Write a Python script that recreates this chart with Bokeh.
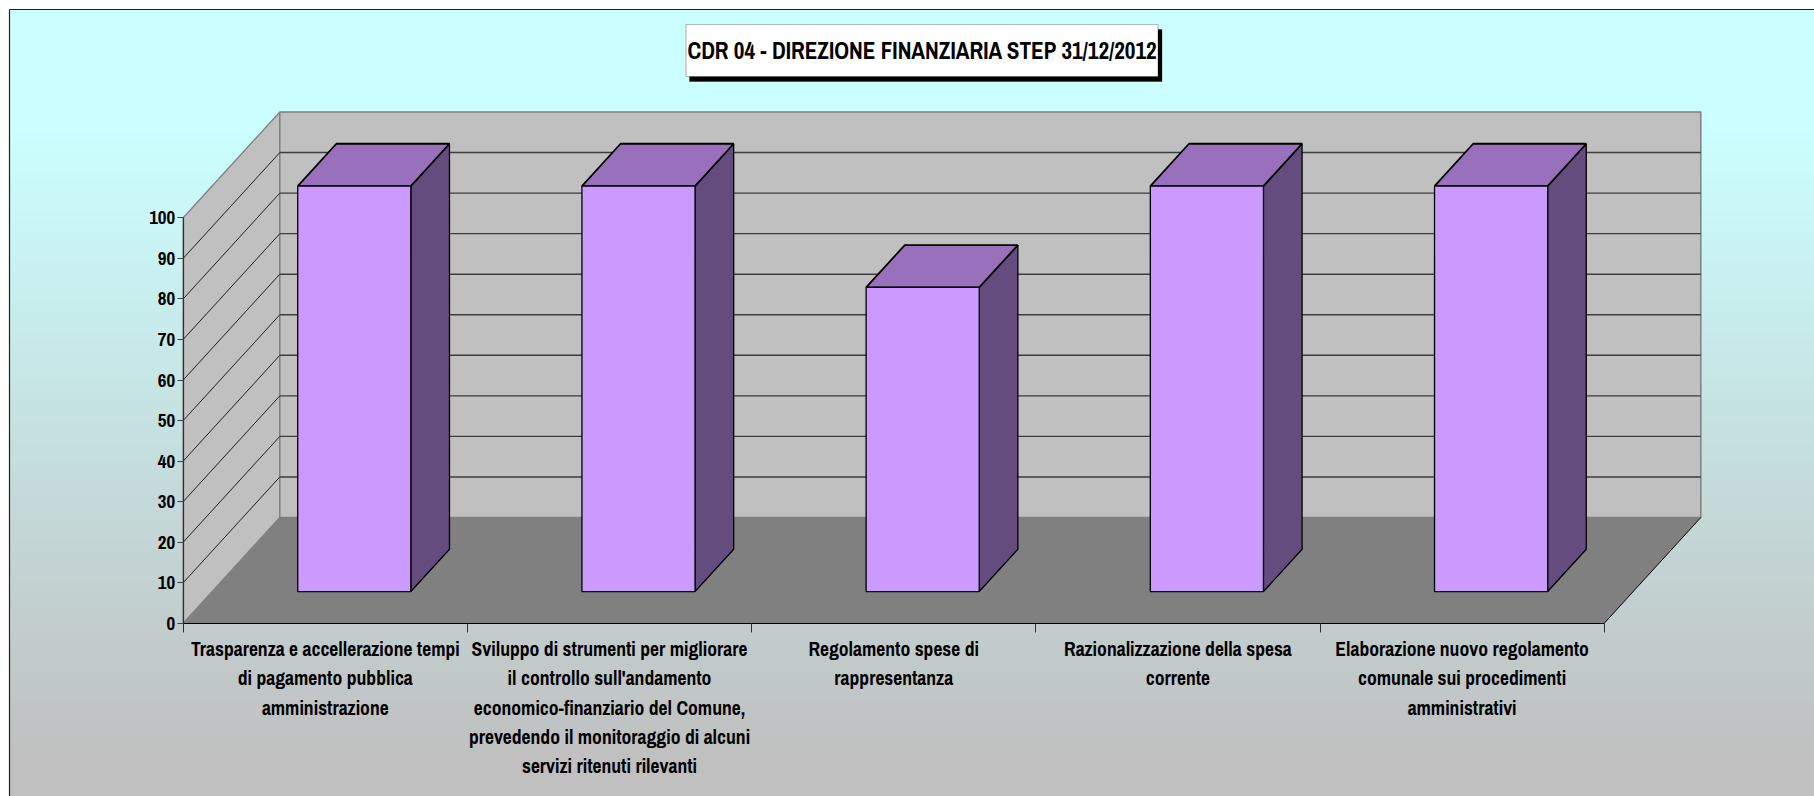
import numpy as np
from bokeh.plotting import figure
from bokeh.models import Range1d, LinearAxis, FixedTicker, Label, BoxAnnotation
from bokeh.embed import file_html
from bokeh.resources import INLINE

title_text = "CDR 04 - DIREZIONE FINANZIARIA STEP 31/12/2012"
categories = [
    "Trasparenza e accellerazione tempi\ndi pagamento pubblica\namministrazione",
    "Sviluppo di strumenti per migliorare\nil controllo sull'andamento\neconomico-finanziario del Comune,\nprevedendo il monitoraggio di alcuni\nservizi ritenuti rilevanti",
    "Regolamento spese di\nrappresentanza",
    "Razionalizzazione della spesa\ncorrente",
    "Elaborazione nuovo regolamento\ncomunale sui procedimenti\namministrativi",
]
values = [100, 100, 75, 100, 100]
y_ticks = list(range(0, 101, 10))

# layout: page pixels of the data origin and scale
X0, XS = 182.7, 284.2     # px of x=0, px per category
Y0, YS = 622.8, 4.055     # px of v=0, px per value unit
DX, DY = 96.6 / XS, 105.8 / YS   # oblique depth vector, in data units
BAR_W, Z0, Z1 = 0.398, 0.3, 0.7
FONT = "Archivo Narrow, Liberation Sans"

W, H = 1814, 796
px = lambda x: (x - X0) / XS
py = lambda y: (Y0 - y) / YS
xr = (px(0), px(W))
yr = (py(H), py(0))

p = figure(width=W, height=H, output_backend="svg", toolbar_location=None,
           x_range=Range1d(*xr), y_range=Range1d(*yr), min_border=0,
           x_axis_type=None, y_axis_type=None, outline_line_color=None)
p.grid.visible = False
p.background_fill_color = "white"
p.border_fill_color = "white"


def proj(x, v, z):
    return x + z * DX, v + z * DY


def face(pts):
    xy = [proj(*q) for q in pts]
    return [a for a, _ in xy], [b for _, b in xy]


# background gradient
ys = np.linspace(9, H, 394)
t = np.clip((ys - 130) / (760 - 130), 0, 1)
c0, c1 = np.array([204, 255, 255]), np.array([192, 192, 192])
rows = (c0[None, :] * (1 - t[:, None]) + c1[None, :] * t[:, None]).astype(np.uint32)
rgba = (255 << 24) | (rows[:, 2] << 16) | (rows[:, 1] << 8) | rows[:, 0]
img = np.repeat(rgba[::-1, None], 2, axis=1)
p.image_rgba(image=[img], x=px(9), y=yr[0], dw=xr[1] - px(9), dh=py(9) - yr[0])

# frame: top and left edges only (the rest is cropped)
p.segment(x0=[px(9), px(9)], y0=[py(9), py(9)], x1=[xr[1], px(9)], y1=[py(9), yr[0]],
          line_color="#202020", line_width=1.2)

n = len(categories)
# walls and floor
xs, ys_ = face([(0, 0, 0), (0, 100, 0), (0, 100, 1), (0, 0, 1)])
p.patch(xs, ys_, fill_color="#C0C0C0", line_color="#808080", line_width=1.3)
xs, ys_ = face([(0, 0, 1), (0, 100, 1), (n, 100, 1), (n, 0, 1)])
p.patch(xs, ys_, fill_color="#C0C0C0", line_color="#808080", line_width=1.5)
xs, ys_ = face([(0, 0, 0), (n, 0, 0), (n, 0, 1), (0, 0, 1)])
p.patch(xs, ys_, fill_color="#808080", line_color=None)
xs, ys_ = face([(n, 0, 0), (n, 0, 1)])
p.line(xs, ys_, line_color="black", line_width=1)

# gridlines
for v in y_ticks[1:-1]:
    xs, ys_ = face([(0, v, 0), (0, v, 1), (n, v, 1)])
    p.line(xs[:2], ys_[:2], line_color="#202020", line_width=1)
    p.line(xs[1:], ys_[1:], line_color="#3c3c3c", line_width=1.4)

# bars
for i, val in enumerate(values):
    l = i + 0.5 - BAR_W / 2
    r = i + 0.5 + BAR_W / 2
    xs, ys_ = face([(r, 0, Z0), (r, val, Z0), (r, val, Z1), (r, 0, Z1)])
    p.patch(xs, ys_, fill_color="#654C7F", line_color="black", line_width=1.3)
    xs, ys_ = face([(l, val, Z0), (r, val, Z0), (r, val, Z1), (l, val, Z1)])
    p.patch(xs, ys_, fill_color="#9970BB", line_color="black", line_width=1.8)
    xs, ys_ = face([(l, 0, Z0), (r, 0, Z0), (r, val, Z0), (l, val, Z0)])
    p.patch(xs, ys_, fill_color="#CC99FF", line_color="black", line_width=1.3)

# axes
ya = LinearAxis(ticker=FixedTicker(ticks=y_ticks), fixed_location=0, bounds=(0, 100),
                axis_line_color="#303030", axis_line_width=1.2,
                major_tick_line_color="#404040", major_tick_out=6, major_tick_in=0,
                major_label_standoff=2,
                major_label_text_font=FONT, major_label_text_font_style="bold",
                major_label_text_font_size="19px", major_label_text_color="black")
p.add_layout(ya, "left")

xa = LinearAxis(ticker=FixedTicker(ticks=list(range(n + 1))), fixed_location=0, bounds=(0, n),
                axis_line_color="black", axis_line_width=1.2,
                major_tick_line_color="#303030", major_tick_out=9, major_tick_in=0,
                major_label_text_font_size="0px", major_label_text_color=None)
p.add_layout(xa, "below")

xl = LinearAxis(ticker=FixedTicker(ticks=[i + 0.5 for i in range(n)]), fixed_location=0,
                axis_line_color=None, major_tick_line_color=None,
                major_tick_out=0, major_tick_in=0, major_label_standoff=13,
                major_label_overrides={i + 0.5: s for i, s in enumerate(categories)},
                major_label_text_font=FONT, major_label_text_font_style="bold",
                major_label_text_font_size="19.6px", major_label_text_color="black",
                major_label_text_line_height=1.12, major_label_text_align="center")
p.add_layout(xl, "below")

# title box with drop shadow
p.add_layout(BoxAnnotation(left=px(689), right=px(1161.5), top=py(29), bottom=py(81),
                           fill_color="black", fill_alpha=1, line_color="black", level="annotation"))
p.add_layout(BoxAnnotation(left=px(685.5), right=px(1157.5), top=py(24), bottom=py(76),
                           fill_color="white", fill_alpha=1, line_color="#222222", line_width=1.2,
                           level="annotation"))
p.add_layout(Label(x=px(922), y=py(49.5), text=title_text, text_align="center",
                   text_baseline="middle", text_font=FONT, text_font_style="bold",
                   text_font_size="23.2px", text_color="black", level="annotation"))

open("out.html", "w").write(file_html(p, INLINE))
